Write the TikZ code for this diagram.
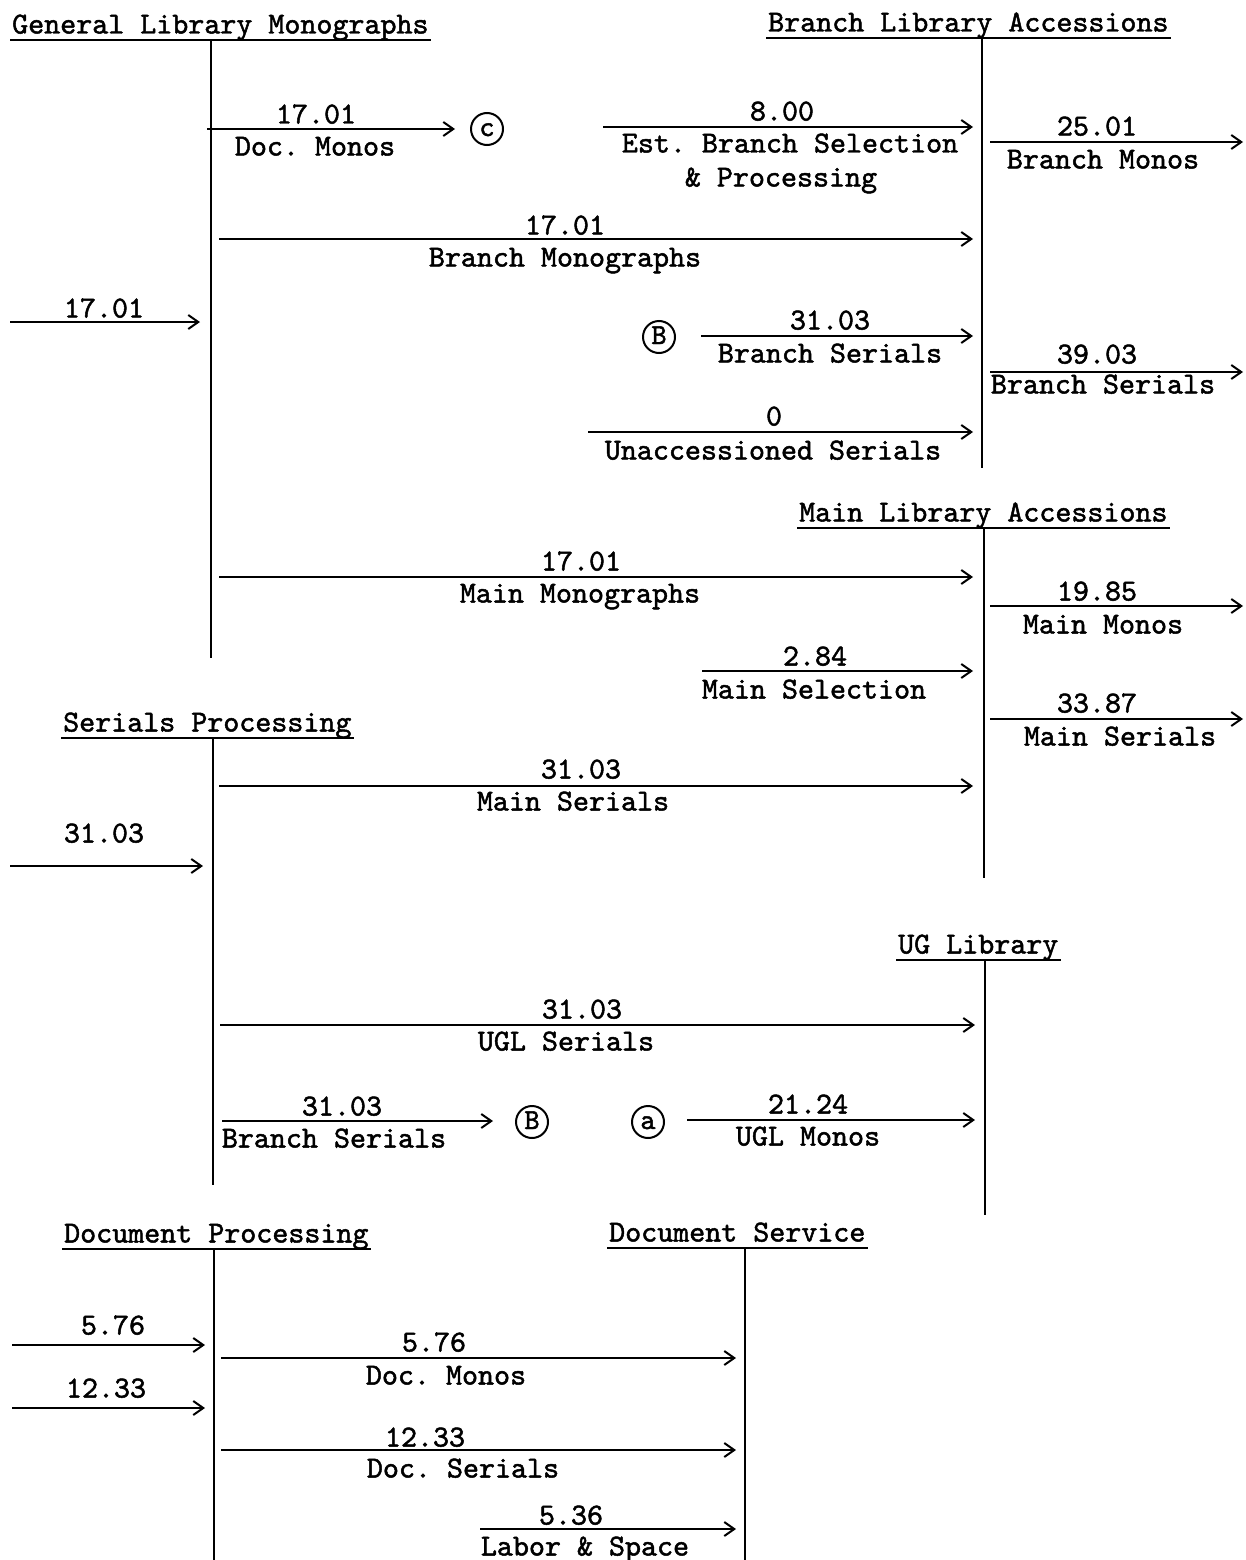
\documentclass[tikz,border=0pt]{standalone}
\usepackage{fontspec}
\newfontfamily\twfont{lmmono10-regular.otf}[FakeBold=1.6]
\usetikzlibrary{arrows.meta}
\frenchspacing
\newcommand\flowarrow[4]{%
  \coordinate (#1s) at (#2,#4);
  \coordinate (#1e) at (#3,#4);
  \draw[flow] (#1s) -- (#1e);}
\newcommand\vbar[4]{%
  \coordinate (#1t) at (#2,#3);
  \coordinate (#1b) at (#2,#4);
  \draw[bar] (#1t) -- (#1b);}
\begin{document}
\begin{tikzpicture}[x=1pt,y=-1pt,
  every node/.style={font=\fontsize{30.5}{36}\selectfont\twfont\frenchspacing, inner sep=0pt, text height=19pt, text depth=0pt},
  lab/.style={anchor=center},
  head/.style={anchor=west, inner xsep=2pt},
  flow/.style={line width=2pt, -{Straight Barb[length=10pt,width=14pt,line width=2pt]}},
  bar/.style={line width=2pt},
  circ/.style={draw, circle, line width=2pt, minimum size=32pt, inner sep=0pt,
    font=\fontsize{29}{32}\selectfont\twfont, text height=14pt, text depth=0pt},
]
\useasboundingbox (0,0) rectangle (1246,1560);

% headings
\node[head] (h1) at (10,24) {General Library Monographs};
\node[head] (h2) at (766,22) {Branch Library Accessions};
\node[head] (h3) at (797,512) {Main Library Accessions};
\node[head] (h4) at (61,722) {Serials Processing};
\node[head] (h5) at (896,944) {UG Library};
\node[head] (h6) at (62,1233) {Document Processing};
\node[head] (h7) at (607,1232) {Document Service};
\foreach \h in {h1,h2,h3,h4,h5,h6,h7}
  \draw[bar] ([yshift=-6pt]\h.south west) -- ([yshift=-6pt]\h.south east);

% vertical bars
\vbar{v1}{211}{40}{658}
\vbar{v2}{982}{37}{468}
\vbar{v3}{984}{527}{878}
\vbar{v4}{213}{738}{1185}
\vbar{v5}{985}{960}{1215}
\vbar{v6}{214}{1248}{1560}
\vbar{v7}{745}{1247}{1560}

% circled letters
\node[circ] (cc) at (487,129) {c};
\node[circ] (cb1) at (659,337) {B};
\node[circ] (cb2) at (532,1122) {B};
\node[circ] (ca) at (648,1122) {a};

% flows
\flowarrow{a1}{207}{455}{129}
\node[lab] (a1t) at (316,114) {17.01};
\node[lab] (a1b) at (315,146) {Doc. Monos};

\flowarrow{a2}{603}{973}{127}
\node[lab] (a2t) at (782,111) {8.00};
\node[lab] (a2b) at (790,143) {Est. Branch Selection};
\node[lab] (a2c) at (781,177) {\& Processing};

\flowarrow{a3}{990}{1243}{142}
\node[lab] (a3t) at (1097,126) {25.01};
\node[lab] (a3b) at (1103,159) {Branch Monos};

\flowarrow{a4}{219}{973}{239}
\node[lab] (a4t) at (565,225) {17.01};
\node[lab] (a4b) at (565,257) {Branch Monographs};

\flowarrow{a5}{10}{200}{322}
\node[lab] (a5t) at (104,308) {17.01};

\flowarrow{a6}{701}{973}{336}
\node[lab] (a6t) at (830,320) {31.03};
\node[lab] (a6b) at (830,353) {Branch Serials};

\flowarrow{a7}{990}{1243}{372}
\node[lab] (a7t) at (1097,354) {39.03};
\node[lab] (a7b) at (1103,384) {Branch Serials};

\flowarrow{a8}{588}{973}{432}
\node[lab] (a8t) at (774,416) {0};
\node[lab] (a8b) at (773,450) {Unaccessioned Serials};

\flowarrow{a9}{219}{973}{577}
\node[lab] (a9t) at (581,561) {17.01};
\node[lab] (a9b) at (580,593) {Main Monographs};

\flowarrow{a10}{990}{1243}{606}
\node[lab] (a10t) at (1097,591) {19.85};
\node[lab] (a10b) at (1103,624) {Main Monos};

\flowarrow{a11}{702}{973}{671}
\node[lab] (a11t) at (815,656) {2.84};
\node[lab] (a11b) at (814,689) {Main Selection};

\flowarrow{a12}{990}{1243}{719}
\node[lab] (a12t) at (1097,703) {33.87};
\node[lab] (a12b) at (1120,736) {Main Serials};

\flowarrow{a13}{219}{973}{786}
\node[lab] (a13t) at (581,769) {31.03};
\node[lab] (a13b) at (573,801) {Main Serials};

\flowarrow{a14}{10}{203}{866}
\node[lab] (a14t) at (104,833) {31.03};

\flowarrow{a15}{220}{975}{1025}
\node[lab] (a15t) at (582,1009) {31.03};
\node[lab] (a15b) at (566,1041) {UGL Serials};

\flowarrow{a16}{222}{493}{1121}
\node[lab] (a16t) at (342,1106) {31.03};
\node[lab] (a16b) at (334,1138) {Branch Serials};

\flowarrow{a17}{687}{975}{1120}
\node[lab] (a17t) at (808,1104) {21.24};
\node[lab] (a17b) at (808,1136) {UGL Monos};

\flowarrow{a18}{12}{205}{1345}
\node[lab] (a18t) at (113,1325) {5.76};

\flowarrow{a19}{12}{205}{1408}
\node[lab] (a19t) at (106,1388) {12.33};

\flowarrow{a20}{221}{736}{1358}
\node[lab] (a20t) at (434,1342) {5.76};
\node[lab] (a20b) at (446,1375) {Doc. Monos};

\flowarrow{a21}{221}{736}{1450}
\node[lab] (a21t) at (425,1437) {12.33};
\node[lab] (a21b) at (463,1468) {Doc. Serials};

\flowarrow{a22}{480}{736}{1529}
\node[lab] (a22t) at (571,1515) {5.36};
\node[lab] (a22b) at (585,1546) {Labor \& Space};
\end{tikzpicture}
\end{document}
